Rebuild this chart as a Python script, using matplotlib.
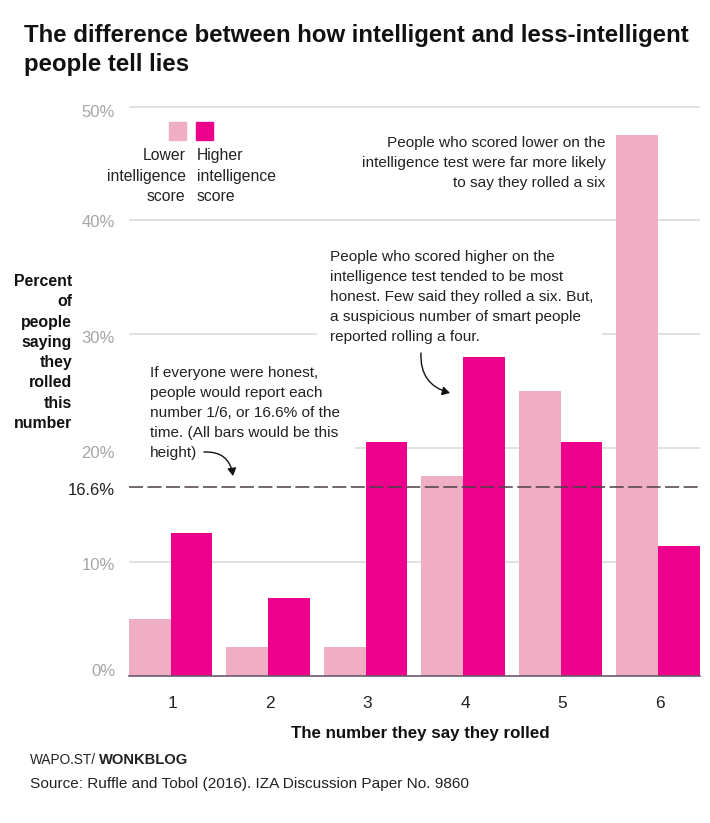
import numpy as np
import matplotlib.pyplot as plt
from matplotlib.patches import FancyArrowPatch, Rectangle
from matplotlib.transforms import ScaledTranslation

W, H = 710, 823

plt.rcParams.update({"font.family": ["Liberation Sans", "DejaVu Sans"]})

rolled = [1, 2, 3, 4, 5, 6]
lower_score = [5.0, 2.5, 2.5, 17.5, 25.0, 47.5]
higher_score = [12.5, 6.8, 20.5, 28.0, 20.5, 11.4]
honest_share = 16.6
y_ticks = [0, 10, 20, 30, 40, 50]
y_labels = ["0%", "10%", "20%", "30%", "40%", "50%"]

LIGHT = "#f0aec4"
DARK = "#ec008c"
GRID = "#d9d9d9"
TICK_GREY = "#a6a6a6"
INK = "#222222"


def fx(x):
    return x / W


def fy(y):
    return 1 - y / H


fig = plt.figure(figsize=(W / 100, H / 100), dpi=100, facecolor="white")
ax = fig.add_axes([fx(129), fy(675.5), fx(699.7) - fx(129), fy(106.7) - fy(675.5)])

px_per_unit = 97.4
bar_w = 41.7 / px_per_unit
ax.set_xlim(1 - bar_w, 6 + bar_w)
ax.set_ylim(0, 50)


def dx(x):
    return 1 + (x - 170.7) / px_per_unit


# gridlines stop where the notes sit
ax.hlines(50, dx(129), dx(699.7), color=GRID, lw=1.1, zorder=1, clip_on=False)
ax.hlines(40, dx(129), dx(699.7), color=GRID, lw=1.1, zorder=1)
ax.hlines(30, dx(129), dx(317), color=GRID, lw=1.1, zorder=1)
ax.hlines(30, dx(602), dx(699.7), color=GRID, lw=1.1, zorder=1)
ax.hlines(20, dx(355), dx(699.7), color=GRID, lw=1.1, zorder=1)
ax.hlines(10, dx(129), dx(699.7), color=GRID, lw=1.1, zorder=1)

x = np.array(rolled)
ax.bar(x - bar_w / 2, lower_score, bar_w, color=LIGHT, zorder=2)
ax.bar(x + bar_w / 2, higher_score, bar_w, color=DARK, zorder=2)
ax.axhline(honest_share, color="#4a4048", lw=1.1, ls=(0, (9.2, 2.9)), zorder=3)

for side in ["top", "left", "right"]:
    ax.spines[side].set_visible(False)
ax.spines["bottom"].set_color("#6b5a6b")
ax.spines["bottom"].set_linewidth(1.2)

ax.set_yticks(y_ticks + [honest_share], y_labels + ["16.6%"])
ax.tick_params(axis="y", length=0, pad=10, labelsize=12, labelcolor=TICK_GREY)
ax.set_xticks(rolled, [str(r) for r in rolled])
ax.tick_params(axis="x", length=0, pad=15, labelsize=12.5, labelcolor=INK)

ylabs = ax.get_yticklabels()
ylabs[-1].set_color(INK)
for lab, shift in zip(ylabs, [-5.5, 2.5, 4, 2.4, 1, 4, 2]):
    lab.set_transform(lab.get_transform() + ScaledTranslation(0, -shift / 100, fig.dpi_scale_trans))
for lab in ax.get_xticklabels():
    lab.set_transform(lab.get_transform() + ScaledTranslation(2 / 100, 0, fig.dpi_scale_trans))


def note(x, y, s, ha="left", **kw):
    kw.setdefault("fontsize", 11.1)
    kw.setdefault("color", INK)
    kw.setdefault("linespacing", 1.55)
    fig.text(fx(x), fy(y), s, ha=ha, va="center", multialignment=ha, **kw)


fig.text(fx(24), fy(50), "The difference between how intelligent and less-intelligent\npeople tell lies",
         ha="left", va="center", fontsize=17.25, fontweight="bold", color="#111111", linespacing=1.3)

# legend
fig.add_artist(Rectangle((fx(169), fy(139.5)), 17 / W, 17.5 / H, color=LIGHT, transform=fig.transFigure))
fig.add_artist(Rectangle((fx(196), fy(139.5)), 17 / W, 17.5 / H, color=DARK, transform=fig.transFigure))
note(185.5, 176, "Lower\nintelligence\nscore", ha="right", fontsize=11.3, linespacing=1.47)
note(196.5, 176, "Higher\nintelligence\nscore", fontsize=11.3, linespacing=1.47)

note(72, 352.5, "Percent\nof\npeople\nsaying\nthey\nrolled\nthis\nnumber", ha="right",
     fontsize=11.4, fontweight="bold", color="#111111", linespacing=1.44)

note(605.5, 163, "People who scored lower on the\nintelligence test were far more likely\nto say they rolled a six", ha="right")
note(330, 297, "People who scored higher on the\nintelligence test tended to be most\nhonest. Few said they rolled a six. But,\na suspicious number of smart people\nreported rolling a four.")
note(150, 413, "If everyone were honest,\npeople would report each\nnumber 1/6, or 16.6% of the\ntime. (All bars would be this\nheight)")

for start, end, rad in [((204, 452), (233, 476), -0.45), ((421, 353), (450, 393), 0.4)]:
    fig.add_artist(FancyArrowPatch((fx(start[0]), fy(start[1])), (fx(end[0]), fy(end[1])),
                                   transform=fig.transFigure, connectionstyle=f"arc3,rad={rad}",
                                   arrowstyle="-|>,head_length=4.5,head_width=2.6", color="#111111",
                                   lw=1.0, shrinkA=0, shrinkB=0))

fig.text(fx(420), fy(733.5), "The number they say they rolled", ha="center", va="center",
         fontsize=12.2, fontweight="bold", color="#111111")

fig.text(fx(30), fy(760), "WAPO.ST/", ha="left", va="center", fontsize=9.8, color=INK)
fig.text(fx(99), fy(760), "WONKBLOG", ha="left", va="center", fontsize=10.6, fontweight="bold", color=INK)
fig.text(fx(30), fy(784), "Source: Ruffle and Tobol (2016). IZA Discussion Paper No. 9860", ha="left", va="center",
         fontsize=11.1, color=INK)

fig.savefig("out.png", dpi=100)
